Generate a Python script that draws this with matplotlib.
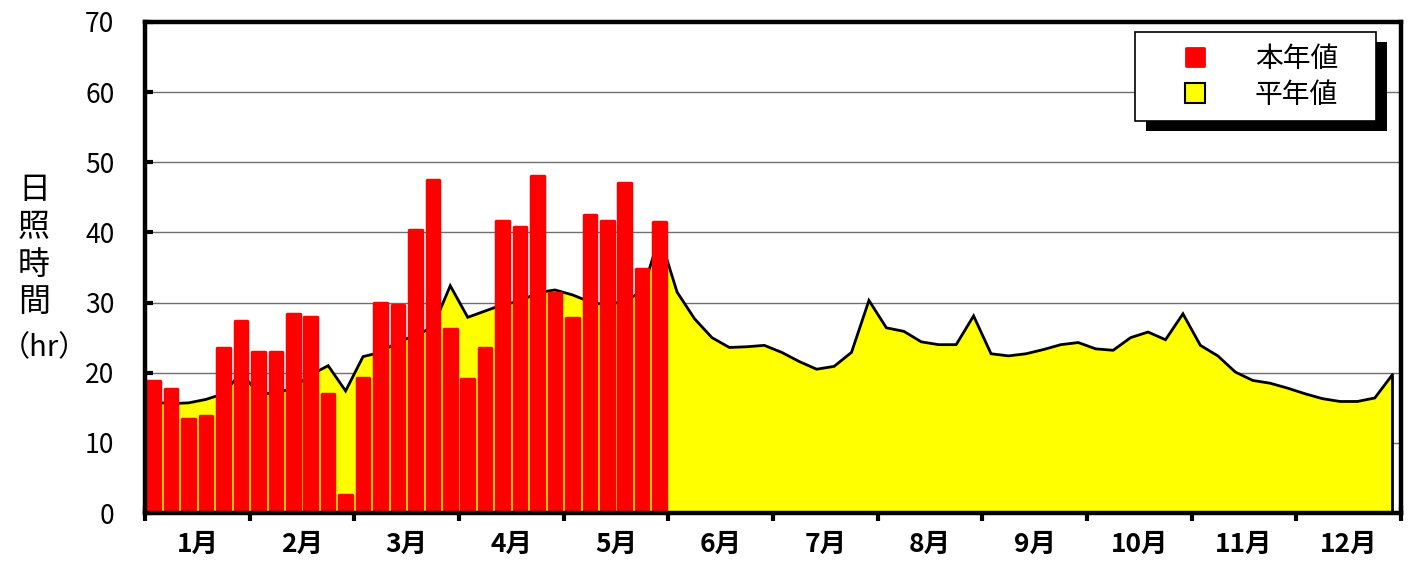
import matplotlib
matplotlib.use("Agg")
import matplotlib.pyplot as plt
from matplotlib.patches import Rectangle
from matplotlib.lines import Line2D
from matplotlib.markers import MarkerStyle
import numpy as np

plt.rcParams['font.family'] = ['Noto Sans CJK JP', 'DejaVu Sans']

# Data (5-day periods, 72 per year)
months = ['1月', '2月', '3月', '4月', '5月', '6月', '7月', '8月', '9月', '10月', '11月', '12月']
this_year = [18.8, 17.7, 13.4, 13.9, 23.5, 27.4,
             23.0, 22.9, 28.3, 27.9, 16.9, 2.5,
             19.3, 29.9, 29.6, 40.3, 47.5, 26.2,
             19.1, 23.5, 41.6, 40.8, 48.1, 31.3,
             27.8, 42.5, 41.7, 47.0, 34.8, 41.5]
normal = [15.8, 15.6, 15.7, 16.2, 17.0, 20.0,
          17.1, 17.0, 17.9, 19.7, 21.0, 17.4,
          22.3, 22.9, 24.4, 25.3, 26.5, 32.4,
          27.9, 28.8, 29.7, 30.2, 31.4, 31.8,
          31.1, 30.1, 29.6, 30.3, 31.5, 39.5,
          31.5, 27.7, 25.0, 23.6, 23.7, 23.9,
          22.9, 21.6, 20.5, 20.9, 22.9, 30.3,
          26.4, 25.9, 24.4, 24.0, 24.0, 28.1,
          22.7, 22.4, 22.7, 23.3, 24.0, 24.3,
          23.4, 23.2, 25.0, 25.8, 24.7, 28.4,
          23.9, 22.4, 20.1, 18.9, 18.5, 17.8,
          17.0, 16.3, 15.9, 15.9, 16.4, 19.7]
labels = ['本年値', '平年値']
ylabel_main = '日\n照\n時\n間'
ylabel_unit = '（hr）'

W, H = 1415, 568
fig = plt.figure(figsize=(W / 100, H / 100), dpi=100)
ax = fig.add_axes([145 / W, 55 / H, (1401 - 145) / W, (513 - 22) / H])

xn = np.arange(len(normal)) + 0.5
xb = np.arange(len(this_year)) + 0.5

ax.set_axisbelow(True)
ax.yaxis.grid(True, color='#707070', linewidth=1.0)

# normal (area)
ax.fill_between(xn, normal, 0, color='#FFFF00', linewidth=0, zorder=2)
ax.plot(xn, normal, color='black', linewidth=2.0, zorder=3, solid_joinstyle='miter')
ax.vlines(xn[-1], 0, normal[-1], color='black', linewidth=2.0, zorder=3)

# this year bars
ax.bar(xb, this_year, width=0.72, color='#FF0000', edgecolor='#FF0000',
       linewidth=2.5, joinstyle='round', zorder=4)

ax.set_xlim(0, 72)
ax.set_ylim(0, 70)
ax.set_yticks(np.arange(0, 71, 10))
ax.set_xticks(np.arange(0, 73, 6))
ax.set_xticklabels([])
ax.set_xticks(np.arange(3, 72, 6), minor=True)
ax.set_xticklabels(months, minor=True, fontsize=19, fontweight='bold')

ax.tick_params(axis='x', which='major', direction='inout', length=12, width=3, color='black')
ax.tick_params(axis='x', which='minor', length=0, pad=13)
ax.tick_params(axis='y', direction='in', length=6, width=3, labelsize=19, pad=22)

for s in ax.spines.values():
    s.set_linewidth(3.2)
    s.set_color('black')
    s.set_zorder(6)

fig.text(34 / W, 1 - 246 / H, ylabel_main, fontsize=23, ha='center', va='center',
         linespacing=1.22)
fig.text(1 / W, 1 - 348 / H, ylabel_unit, fontsize=21, ha='left', va='center')

red_m = MarkerStyle('s', joinstyle='round')
yel_m = MarkerStyle('s', joinstyle='miter')
handles = [Line2D([], [], linestyle='none', marker=red_m, markersize=13.5,
                  markerfacecolor='#FF0000', markeredgecolor='#FF0000', markeredgewidth=2),
           Line2D([], [], linestyle='none', marker=yel_m, markersize=14,
                  markerfacecolor='#FFFF00', markeredgecolor='black', markeredgewidth=1.5)]
x0 = (1135 - 145) / 1256
y_top = (513 - 32) / 491
wbox = (1376 - 1135) / 1256
leg = ax.legend(handles, labels, loc='upper left', mode='expand',
                bbox_to_anchor=(x0, y_top - 0.15, wbox, 0.15),
                fontsize=20, handlelength=3.5, handleheight=0.75, handletextpad=0.4,
                borderpad=0.42, labelspacing=0.22, borderaxespad=0, fancybox=False,
                framealpha=1, edgecolor='black')
leg.get_frame().set_linewidth(1.2)

fig.canvas.draw()
bb = leg.get_window_extent()
shadow = Rectangle((bb.x0 + 11, bb.y0 - 10), bb.width, bb.height, transform=None,
                   facecolor='black', edgecolor='none', zorder=9)
fig.add_artist(shadow)
leg.remove()
fig.add_artist(leg)
leg.set_zorder(11)

fig.savefig('out.png', dpi=100)
